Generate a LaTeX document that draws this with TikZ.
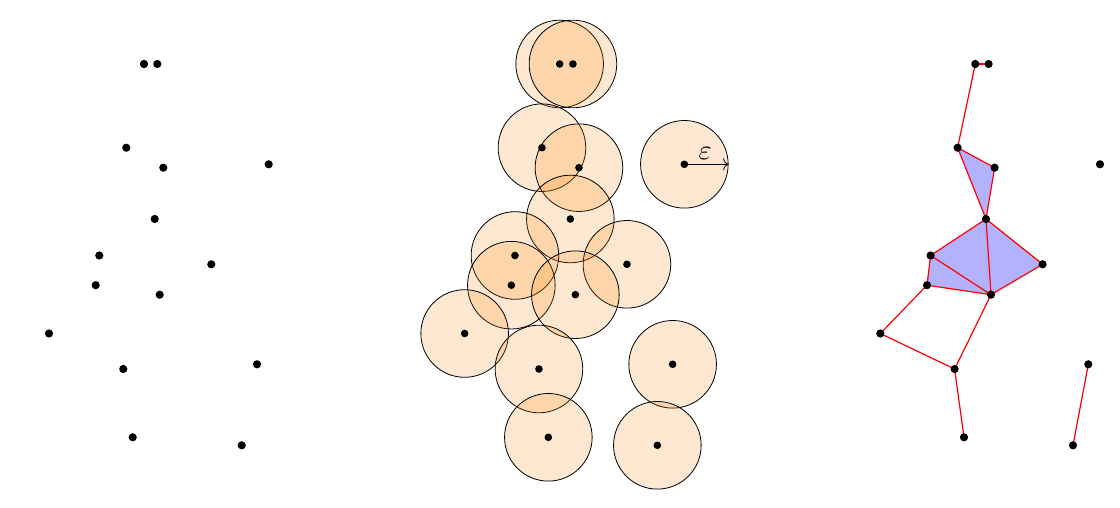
\documentclass[tikz,border=0pt]{standalone}
\usetikzlibrary{arrows.meta,calc}
\begin{document}
\begin{tikzpicture}[x=1bp,y=-1bp,
  ball/.style={draw=black,line width=0.8bp,fill=orange,fill opacity=0.18,draw opacity=1},
  dot/.style={fill=black},
  edge/.style={draw=red,line width=1.2bp},
  tri/.style={fill=blue!30},
  radarrow/.style={draw=black,line width=0.8bp,-{To[length=5bp,width=12bp]}}]
\useasboundingbox (0,0) rectangle (1120,508);
\foreach \n/\x/\y in {1/144/64, 2/157.3/64, 3/126.3/147.7, 4/163.3/167.7, 5/268.7/164.3,
  6/154.7/219, 7/99.3/255.5, 8/211.3/264.3, 9/95.7/285.2, 10/159.7/294.7,
  11/49/333.5, 12/123.3/369, 13/257/364.3, 14/132.7/437.3, 15/241.7/445.3} {
  \coordinate (a\n) at (\x,\y);
  \coordinate (b\n) at (\x+415.65,\y);
  \coordinate (c\n) at (\x+831.3,\y);
}
% middle panel: balls
\foreach \n in {1,...,15} \path[ball] (b\n) circle[radius=43.8bp];
% right panel: filled triangles
\foreach \i/\j/\k in {3/4/6, 6/7/10, 6/8/10, 7/9/10} \fill[tri] (c\i) -- (c\j) -- (c\k) -- cycle;
% right panel: edges
\foreach \i/\j in {1/2,1/3,3/4,3/6,4/6,6/7,6/8,6/10,7/9,7/10,9/10,8/10,9/11,11/12,10/12,12/14,13/15}
  \draw[edge] (c\i) -- (c\j);
% dots
\foreach \n in {1,...,15} {
  \fill[dot] (a\n) circle[radius=4.1bp];
  \fill[dot] (b\n) circle[radius=3.8bp];
  \fill[dot] (c\n) circle[radius=4.1bp];
}
% epsilon radius
\coordinate (e) at ($(b5)+(43.8,0)$);
\draw[radarrow] (b5) -- (e);
\node[scale=2.8,inner sep=0] (eps) at (705,153.5) {$\varepsilon$};
\end{tikzpicture}
\end{document}
